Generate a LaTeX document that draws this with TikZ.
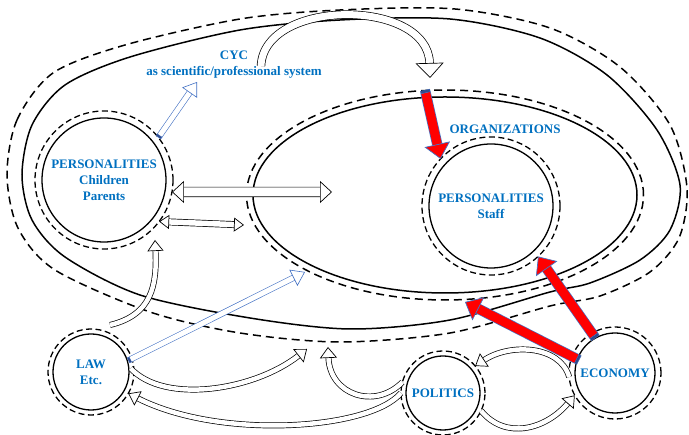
\documentclass[tikz,border=0pt]{standalone}
\usepackage{fontspec}
\setmainfont{Liberation Serif}
\usetikzlibrary{arrows.meta}
\definecolor{cycblue}{HTML}{0070C0}
\definecolor{arrowblue}{HTML}{4472C4}
\definecolor{capblue}{HTML}{2E4A8B}

\tikzset{
  unit/.style={circle,draw,line width=1.3pt,text=cycblue,align=center,inner sep=0pt,
    font=\fontsize{13}{16}\selectfont\bfseries},
  caption/.style={text=cycblue,align=center,font=\fontsize{13}{16}\selectfont\bfseries},
  ring/.style={line width=1.3pt,dash pattern=on 6pt off 3.5pt},
  rim/.style={line width=1.5pt},
  rimdash/.style={line width=1.5pt,dash pattern=on 8pt off 5pt},
  hollow/.style={draw=black,line width=.7pt,double=white,double distance=#1},
  openhead/.style 2 args={arrows={-Triangle[length=#1,width=#2,line width=.7pt,fill=white]}},
  twinhead/.style 2 args={arrows={Triangle[length=#1,width=#2,line width=.7pt,fill=white]-Triangle[length=#1,width=#2,line width=.7pt,fill=white]}},
  bluearrow/.style={draw=arrowblue,line width=.6pt,double=white,double distance=5pt,
    arrows={Rectangle[length=2.5pt,width=6pt,line width=.3pt,fill=capblue]-Triangle[length=13pt,width=18pt,line width=.6pt,fill=white]}},
  redarrow/.style={draw=arrowblue,line width=.7pt,double=red,double distance=9pt,
    arrows={Rectangle[length=3pt,width=10pt,line width=.3pt,fill=capblue]-Triangle[length=15pt,width=26pt,line width=.7pt,fill=red]}}
}

\begin{document}
\begin{tikzpicture}[x=1pt,y=1pt]
\useasboundingbox (0,0) rectangle (689,435);

% society and organizations
\draw[rim] plot[smooth cycle] coordinates {(22,260) (32,310) (65,350) (130,378) (240,405) (340,415)
  (450,416) (540,397) (607,360) (657,305) (680,250) (670,205) (640,175) (590,152) (550,143)
  (450,115) (350,106) (250,117) (140,140) (65,178) (32,215)};
\draw[rimdash] plot[smooth cycle] coordinates {(7,260) (17,315) (53,362) (125,390) (240,416) (340,425)
  (455,426) (550,407) (620,368) (670,310) (687,247) (679,197) (650,163) (600,139) (550,129)
  (450,102) (340,93) (240,102) (150,123) (55,165) (18,207)};
\draw[rim] (445,240) ellipse [x radius=192pt,y radius=98pt];
\draw[rimdash] (445,240) ellipse [x radius=198.5pt,y radius=105pt];

\node[unit,minimum size=124pt,outer sep=7pt] (child) at (104,255) {PERSONALITIES\\Children\\Parents};
\node[unit,minimum size=124pt,outer sep=7pt] (staff) at (491,229) {PERSONALITIES\\Staff};
\node[unit,minimum size=76pt,outer sep=5pt] (law) at (91,63) {LAW\\Etc.};
\node[unit,minimum size=74pt,outer sep=5pt] (politics) at (443,42) {POLITICS};
\node[unit,minimum size=80pt,outer sep=6pt] (economy) at (615,62) {ECONOMY};
\foreach \n/\r in {child/69,staff/69,law/43,politics/42,economy/46}
  \draw[ring] (\n) circle [radius=\r pt];

\node[caption] (cyc) at (234,370) {CYC\\as scientific/professional system};
\node[caption] (org) at (505,306) {ORGANIZATIONS};

\coordinate (cyctail) at (261,369);
\coordinate (cychead) at (430,357);
\coordinate (cycin) at (197,353);
\coordinate (orgleft) at (332,243);
\coordinate (orgedge) at (244,210);
\coordinate (orglow) at (305,163);
\coordinate (orgtop) at (425,345);
\coordinate (sysgap) at (465,133);
\coordinate (lawtop) at (110,110);
\coordinate (childlow) at (155,195);
\coordinate (syslow) at (307,86);
\coordinate (sysmid) at (328,88);

% flows
\draw[hollow=7pt,openhead={15pt}{28pt}] (cyctail) .. controls (264,437) and (428,437) .. (cychead);
\draw[bluearrow] (child.38) -- (cycin);
\draw[bluearrow,shorten <=-4pt] (law.18) -- (orglow);
\draw[hollow=9pt,twinhead={12pt}{22pt}] (child.-10) -- (orgleft);
\draw[hollow=5.5pt,twinhead={10pt}{14pt}] (child.-37) -- (orgedge);
\draw[redarrow] (orgtop) -- (staff.137);
\draw[redarrow,shorten <=-6pt] (economy.120) -- (staff.-47);
\draw[redarrow,shorten <=-8pt] (economy.159) -- (sysgap);
\draw[hollow=4.5pt,openhead={11pt}{16pt}] (lawtop) .. controls (152,120) and (157,150) .. (childlow);
\draw[hollow=4.5pt,openhead={11pt}{17pt},shorten <=-5pt] (law.0) .. controls (165,30) and (255,45) .. (syslow);
\draw[hollow=4.5pt,openhead={11pt}{17pt}] (politics.165) .. controls (375,25) and (330,40) .. (sysmid);
\draw[hollow=4.5pt,openhead={11pt}{16pt}] (politics.180) .. controls (370,5) and (220,-5) .. (law.-30);
\draw[hollow=4.5pt,openhead={11pt}{16pt}] (economy.185) .. controls (560,90) and (510,92) .. (politics.40);
\draw[hollow=4.5pt,openhead={11pt}{16pt}] (politics.-25) .. controls (505,-5) and (545,5) .. (economy.-151);
\end{tikzpicture}
\end{document}
